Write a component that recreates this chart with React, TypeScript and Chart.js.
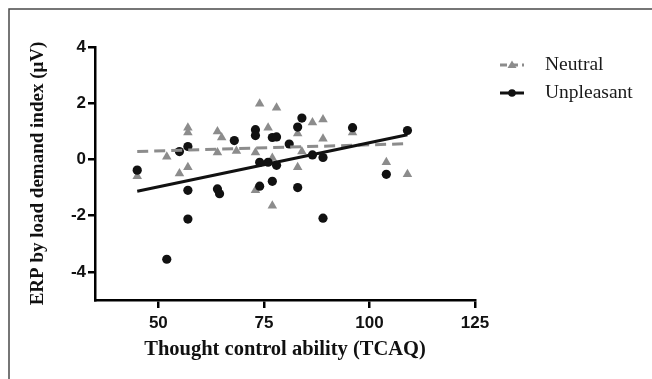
import React, { useEffect, useRef } from "react";
import { Chart, registerables } from "chart.js";

Chart.register(...registerables);

const xTicks = [50, 75, 100, 125];
const yTicks = [-4, -2, 0, 2, 4];

const neutralX = [45, 52, 55, 57, 57, 57, 64, 64, 65, 68.5, 73, 73, 74, 76, 77, 77, 78, 83, 83, 84, 86.5, 89, 89, 96, 104, 109];
const neutralY = [-0.6, 0.1, -0.5, 1.13, 0.96, -0.28, 0.99, 0.25, 0.78, 0.3, 0.25, -1.1, 1.98, 1.13, 0.05, -1.65, 1.84, 0.92, -0.28, 0.28, 1.31, 1.42, 0.74, 0.96, -0.1, -0.53];

const unpleasantX = [45, 52, 55, 57, 57, 57, 64, 64.5, 68, 73, 73, 74, 74, 76, 77, 77, 78, 78, 81, 83, 83, 84, 86.5, 89, 89, 96, 104, 109];
const unpleasantY = [-0.38, -3.55, 0.28, 0.46, -1.1, -2.12, -1.05, -1.22, 0.67, 1.06, 0.85, -0.1, -0.95, -0.1, 0.78, -0.78, 0.8, -0.21, 0.55, 1.15, -1.0, 1.47, 0.16, 0.07, -2.09, 1.13, -0.53, 1.03];

const neutralFitX = [45, 109];
const neutralFitY = [0.28, 0.56];
const unpleasantFitX = [45, 109];
const unpleasantFitY = [-1.13, 0.88];

const seriesNames = ["Neutral", "Unpleasant"];
const GRAY = "#8c8c8c";
const BLACK = "#111111";

const pts = (xs: number[], ys: number[]) => xs.map((x, i) => ({ x, y: ys[i] }));

const framePlugin = {
  id: "frame",
  beforeDraw(chart: any) {
    const ctx = chart.ctx;
    ctx.save();
    ctx.fillStyle = "#ffffff";
    ctx.fillRect(0, 0, chart.width, chart.height);
    ctx.strokeStyle = "#4a4a4a";
    ctx.lineWidth = 1.5;
    ctx.beginPath();
    ctx.moveTo(9, chart.height);
    ctx.lineTo(9, 9);
    ctx.lineTo(chart.width, 9);
    ctx.stroke();
    ctx.restore();
  },
};

const legendPlugin = {
  id: "customLegend",
  afterDraw(chart: any) {
    const ctx = chart.ctx;
    ctx.save();
    const rows = [
      { y: 65, color: GRAY, dash: [7, 4], tri: true, name: seriesNames[0] },
      { y: 93, color: BLACK, dash: [], tri: false, name: seriesNames[1] },
    ];
    rows.forEach((r) => {
      ctx.strokeStyle = r.color;
      ctx.lineWidth = 3;
      ctx.setLineDash(r.dash);
      ctx.beginPath();
      ctx.moveTo(500, r.y);
      ctx.lineTo(524, r.y);
      ctx.stroke();
      ctx.setLineDash([]);
      ctx.fillStyle = r.color;
      ctx.beginPath();
      if (r.tri) {
        ctx.moveTo(512, r.y - 4.5);
        ctx.lineTo(516.5, r.y + 3);
        ctx.lineTo(507.5, r.y + 3);
        ctx.closePath();
      } else {
        ctx.arc(512, r.y, 3.8, 0, Math.PI * 2);
      }
      ctx.fill();
      ctx.fillStyle = "#1a1a1a";
      ctx.font = '19.5px "Liberation Serif"';
      ctx.textBaseline = "middle";
      ctx.textAlign = "left";
      ctx.fillText(r.name, 545, r.y);
    });
    ctx.restore();
  },
};

export default function App() {
  const ref = useRef<HTMLCanvasElement>(null);
  useEffect(() => {
    if (!ref.current) return;
    const chart = new Chart(ref.current, {
      type: "scatter",
      data: {
        datasets: [
          {
            label: seriesNames[1] + " fit",
            data: pts(unpleasantFitX, unpleasantFitY),
            showLine: true,
            borderColor: BLACK,
            borderWidth: 3,
            pointRadius: 0,
            order: 0,
          },
          {
            label: seriesNames[0] + " fit",
            data: pts(neutralFitX, neutralFitY),
            showLine: true,
            borderColor: GRAY,
            borderWidth: 3,
            borderDash: [11, 6],
            pointRadius: 0,
            order: 1,
          },
          {
            label: seriesNames[1],
            data: pts(unpleasantX, unpleasantY),
            pointStyle: "circle",
            pointRadius: 4.6,
            backgroundColor: BLACK,
            borderColor: BLACK,
            borderWidth: 0,
            order: 2,
          },
          {
            label: seriesNames[0],
            data: pts(neutralX, neutralY),
            pointStyle: "triangle",
            pointRadius: 5.5,
            backgroundColor: GRAY,
            borderColor: GRAY,
            borderWidth: 0,
            order: 3,
          },
        ],
      },
      options: {
        animation: false,
        responsive: false,
        events: [],
        layout: { padding: { left: 0, top: 47, right: 177, bottom: 0 } },
        plugins: { legend: { display: false }, tooltip: { enabled: false } },
        scales: {
          x: {
            type: "linear",
            min: 35,
            max: 125,
            afterBuildTicks: (s: any) => {
              s.ticks = xTicks.map((v) => ({ value: v }));
            },
            afterFit: (s: any) => {
              s.height = 79;
            },
            grid: { display: true, drawOnChartArea: false, drawTicks: true, tickLength: 8, color: "#000", lineWidth: 2.5 },
            border: { display: true, color: "#000", width: 2.5 },
            ticks: {
              color: "#111",
              padding: 5,
              maxRotation: 0,
              font: { family: '"Liberation Sans", Arial, sans-serif', size: 17, weight: "bold" },
            },
            title: {
              display: true,
              text: "Thought control ability (TCAQ)",
              color: "#111",
              padding: { top: 0, bottom: 17 },
              font: { family: '"Liberation Serif", "Times New Roman", serif', size: 20.5, weight: "bold" },
            },
          },
          y: {
            type: "linear",
            min: -5,
            max: 4,
            afterBuildTicks: (s: any) => {
              s.ticks = yTicks.map((v) => ({ value: v }));
            },
            afterFit: (s: any) => {
              s.width = 95;
            },
            grid: { display: true, drawOnChartArea: false, drawTicks: true, tickLength: 7, color: "#000", lineWidth: 2.5 },
            border: { display: true, color: "#000", width: 2.5 },
            ticks: {
              color: "#111",
              padding: 2,
              font: { family: '"Liberation Sans", Arial, sans-serif', size: 17, weight: "bold" },
            },
            title: {
              display: true,
              text: "ERP by load demand index (\u03bcV)",
              color: "#111",
              padding: { top: 27, bottom: 0 },
              font: { family: '"Liberation Serif", "Times New Roman", serif', size: 19, weight: "bold" },
            },
          },
        },
      },
      plugins: [framePlugin, legendPlugin],
    } as any);
    return () => chart.destroy();
  }, []);
  return (
    <div style={{ position: "fixed", left: 0, top: 0, width: 652, height: 379 }}>
      <canvas ref={ref} width={652} height={379} style={{ display: "block", width: 652, height: 379 }} />
    </div>
  );
}
